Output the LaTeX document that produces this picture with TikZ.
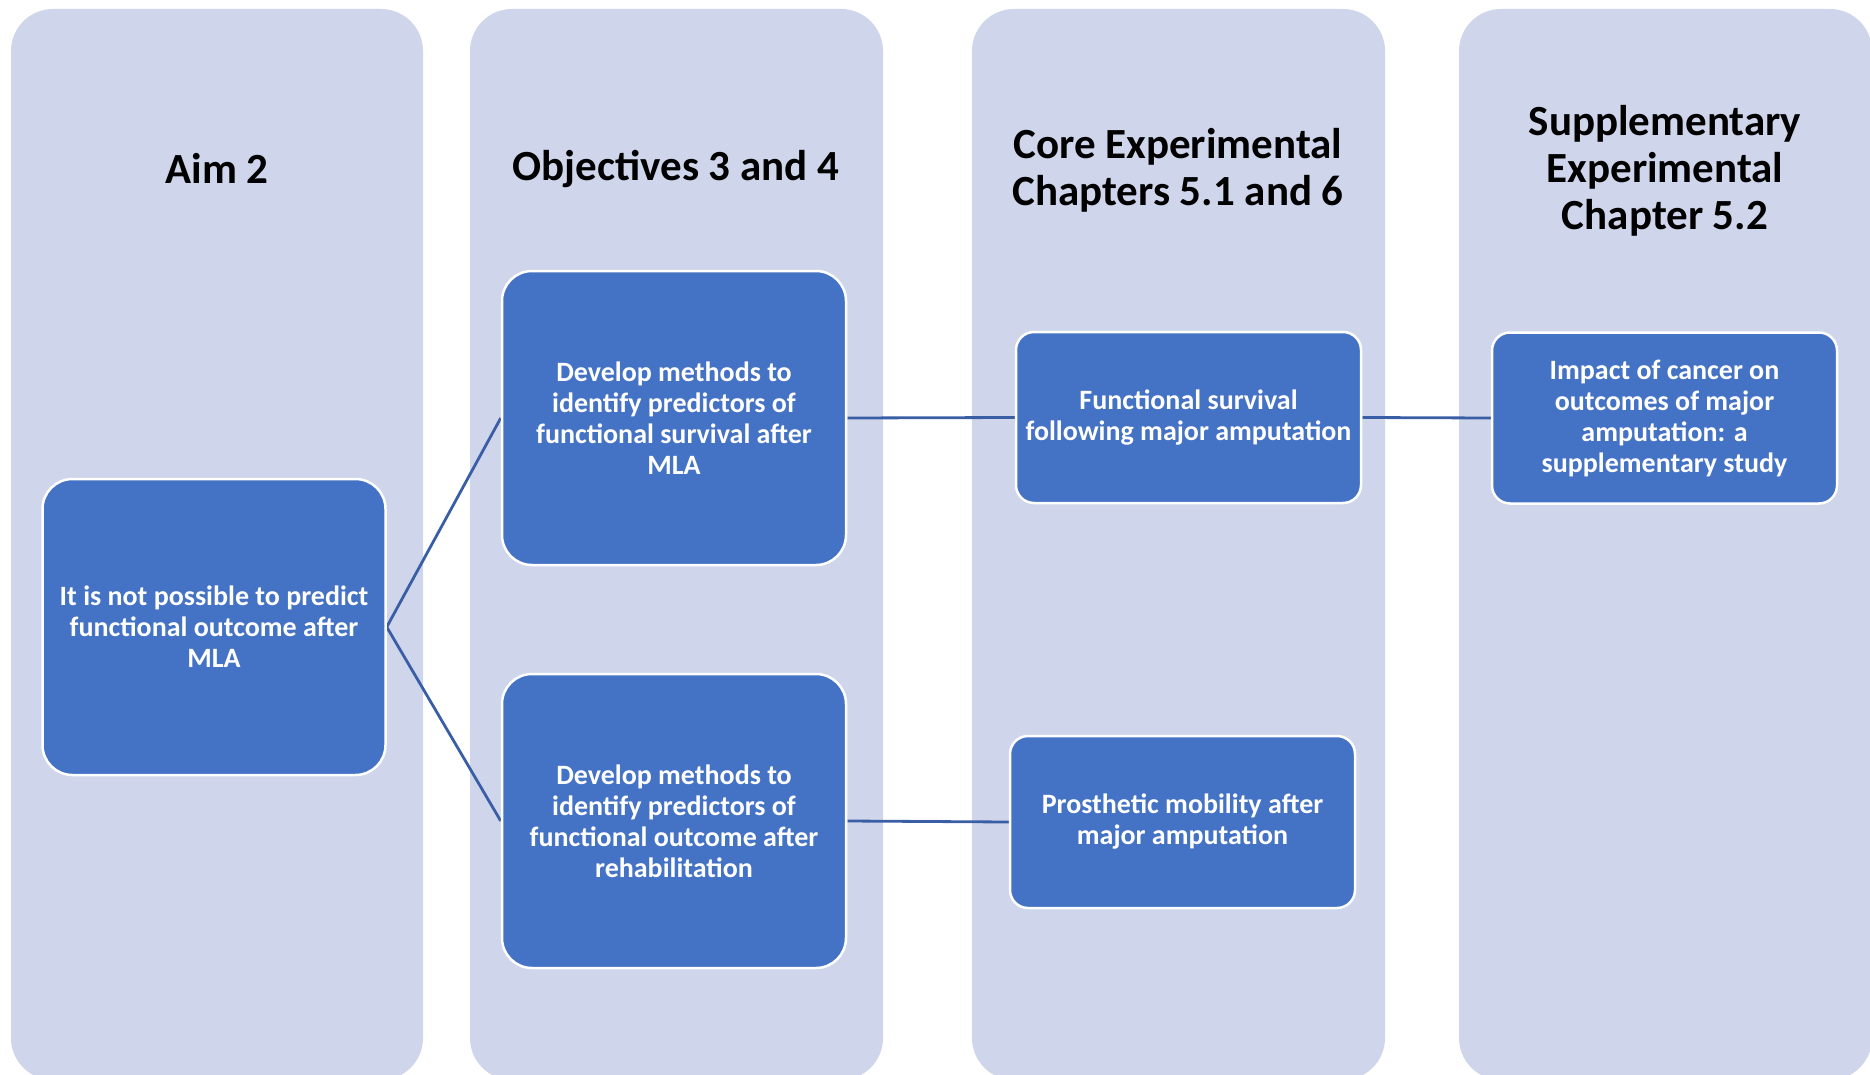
\documentclass[tikz,border=0pt]{standalone}
\usepackage{fontspec}
\setmainfont{Carlito}
\usetikzlibrary{backgrounds}
\begin{document}
\begin{tikzpicture}[x=1pt,y=-1pt,
  lane/.style={fill=laneblue},
  item/.style={draw=white,line width=2.5pt,fill=boxblue,text=white,
    align=center,font=\fontsize{28}{31}\selectfont\bfseries,inner sep=0pt},
  heading/.style={align=center,font=\fontsize{43}{47}\selectfont\bfseries,text=black},
  link/.style={draw=lineblue,line width=2.8pt}]
\definecolor{laneblue}{HTML}{CFD5EA}
\definecolor{boxblue}{HTML}{4472C4}
\definecolor{lineblue}{HTML}{3A5EA6}
\useasboundingbox (0,0) rectangle (1870,1075);

% lane headings
\node[heading] (h1) at (217,168) {Aim 2};
\node[heading] (h2) at (676,169) {Objectives 3 and 4};
\node[heading] (h3) at (1178,170.5) {Core Experimental\\Chapters 5.1 and 6};
\node[heading] (h4) at (1665,170.5) {Supplementary\\Experimental\\Chapter 5.2};

% content boxes
\node[item,rounded corners=30pt,minimum width=343pt,minimum height=296pt] (aim) at (214,627)
  {It is not possible to predict\\functional outcome after\\MLA};
\node[item,rounded corners=30pt,minimum width=344pt,minimum height=294pt] (obj1) at (674,418)
  {Develop methods to\\identify predictors of\\functional survival after\\MLA};
\node[item,rounded corners=30pt,minimum width=344pt,minimum height=294pt] (obj2) at (674,821)
  {Develop methods to\\identify predictors of\\functional outcome after\\rehabilitation};
\node[item,rounded corners=18pt,minimum width=345pt,minimum height=171pt] (core1) at (1188.5,417.5)
  {Functional survival\\following major amputation};
\node[item,rounded corners=18pt,minimum width=345pt,minimum height=172pt] (core2) at (1182.5,822)
  {Prosthetic mobility after\\major amputation};
\node[item,rounded corners=18pt,minimum width=345pt,minimum height=171pt] (supp) at (1664.5,418)
  {Impact of cancer on\\outcomes of major\\amputation: a\\supplementary study};

\begin{scope}[on background layer]
% background lanes, clipped at the page edge
\begin{scope}
\clip (0,0) rectangle (1870,1075);
\fill[lane,rounded corners=42pt] (11,9) rectangle (423,1080);
\fill[lane,rounded corners=42pt] (470,9) rectangle (883,1080);
\fill[lane,rounded corners=42pt] (972,9) rectangle (1385,1080);
\fill[lane,rounded corners=42pt] (1459,9) rectangle (1872,1080);
\end{scope}
% connectors, above the lanes and behind the boxes
\draw[link] (aim.east) -- (obj1.west);
\draw[link] (aim.east) -- (obj2.west);
\draw[link] (obj1.east) -- (core1.west);
\draw[link] (obj2.east) -- (core2.west);
\draw[link] (core1.east) -- (supp.west);
\end{scope}
\end{tikzpicture}
\end{document}
